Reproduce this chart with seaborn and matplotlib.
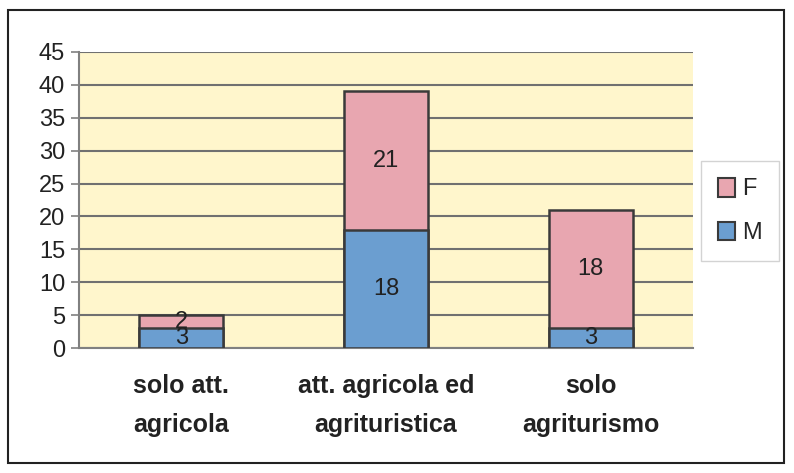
import matplotlib
matplotlib.use("Agg")
import matplotlib.pyplot as plt
import seaborn as sns
import pandas as pd
import numpy as np
from matplotlib.patches import Rectangle, Patch

categories = ["solo att.\nagricola", "att. agricola ed\nagrituristica", "solo\nagriturismo"]
m_values = [3, 18, 3]
f_values = [2, 21, 18]
y_ticks = [0, 5, 10, 15, 20, 25, 30, 35, 40, 45]

sns.set_theme(style="white")
plt.rcParams['font.family'] = ['Liberation Sans', 'DejaVu Sans']

df = pd.DataFrame({"cat": categories, "M": m_values, "F": f_values})
df["total"] = df["M"] + df["F"]

fig = plt.figure(figsize=(7.94, 4.73), dpi=100)
ax = fig.add_axes([79/794, 1-348/473, (693-79)/794, (348-52)/473])

bg = "#FFF6CC"
pink = "#E8A6B0"
blue = "#6B9ED0"
edge = "#3A3A3A"
ax.set_facecolor(bg)

sns.barplot(data=df, x="cat", y="total", color=pink, width=0.41,
            edgecolor=edge, linewidth=1.8, saturation=1, ax=ax, zorder=3)
sns.barplot(data=df, x="cat", y="M", color=blue, width=0.41,
            edgecolor=edge, linewidth=1.8, saturation=1, ax=ax, zorder=4)

ax.set_ylim(0, 45)
ax.set_xlim(-0.5, 2.5)
ax.set_yticks(y_ticks)
ax.set_yticklabels([str(t) for t in y_ticks], fontsize=17, color="#222222")
ax.yaxis.grid(True, color="#707070", linewidth=1.5, zorder=1)
ax.set_axisbelow(True)

ax.set_xticks([-0.5, 0.5, 1.5, 2.5], minor=True)
ax.set_xticks(range(len(categories)))
ax.set_xticklabels(categories, fontsize=18, fontweight="bold", color="#222222",
                   linespacing=1.75)
ax.tick_params(axis="x", which="major", length=0, pad=19)
ax.tick_params(axis="x", which="minor", length=6, width=1.2, color="#808080", direction="out")
ax.tick_params(axis="y", length=6, width=1.2, color="#808080", direction="out", pad=4, left=True)
ax.set_xlabel("")
ax.set_ylabel("")

for s in ["top", "right"]:
    ax.spines[s].set_visible(False)
for s in ["left", "bottom"]:
    ax.spines[s].set_color("#808080")
    ax.spines[s].set_linewidth(1.5)

for i, (m, f) in enumerate(zip(m_values, f_values)):
    ax.text(i, m / 2, str(m), ha="center", va="center", fontsize=17, color="#222222", zorder=6)
    ax.text(i, m + f / 2, str(f), ha="center", va="center", fontsize=17, color="#222222", zorder=6)

handles = [Patch(facecolor=pink, edgecolor=edge, linewidth=1.5, label="F"),
           Patch(facecolor=blue, edgecolor=edge, linewidth=1.5, label="M")]
leg = fig.legend(handles=handles, loc="center", bbox_to_anchor=(740/794, 1-211/473),
                 fontsize=17, frameon=True, fancybox=False, edgecolor="#C8C8C8",
                 handlelength=0.75, handleheight=0.85, handletextpad=0.3,
                 labelspacing=0.9, borderpad=0.7)
leg.get_frame().set_linewidth(1.0)

fig.patches.append(Rectangle((8/794, 10/473), 776/794, 453/473, transform=fig.transFigure,
                             fill=False, edgecolor="#222222", linewidth=1.5))

fig.savefig("out.png", dpi=100)
